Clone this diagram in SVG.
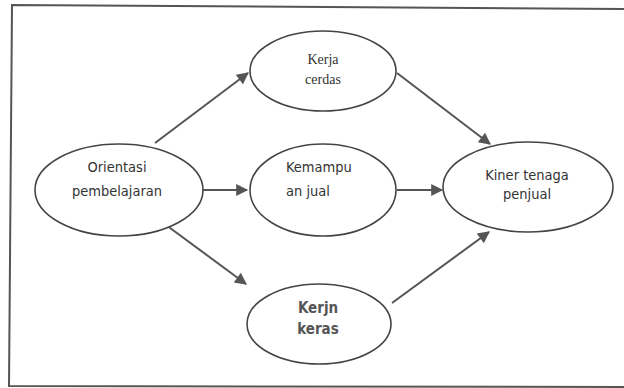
<svg xmlns="http://www.w3.org/2000/svg" width="624" height="388" viewBox="0 0 624 388">
<style>
.node ellipse{fill:#fff;stroke:#444;stroke-width:1.6}
.t{font-family:"Liberation Sans Narrow","DejaVu Sans Condensed","Liberation Sans",sans-serif;font-size:14.5px;fill:#333;text-anchor:middle}
.s{font-family:"Liberation Serif",serif;font-size:14px;fill:#333;text-anchor:middle}
.b{font-family:"Liberation Sans Narrow","DejaVu Sans Condensed","Liberation Sans",sans-serif;font-size:15px;font-weight:bold;fill:#555;text-anchor:middle}
.c line{stroke:#555;stroke-width:2;marker-end:url(#ah)}
</style>
<defs>
<marker id="ah" viewBox="0 0 10 10" refX="9" refY="5" markerWidth="7" markerHeight="6" markerUnits="strokeWidth" orient="auto">
<path d="M0,0 L10,5 L0,10 z" fill="#555"/>
</marker>
</defs>
<rect width="624" height="388" fill="#fff"/>
<path d="M626,9 L12,5 L9,386 L626,387" fill="none" stroke="#555" stroke-width="2"/>
<g class="c">
<line x1="155" y1="143" x2="248" y2="73"/>
<line x1="203" y1="190" x2="247" y2="190"/>
<line x1="162" y1="222" x2="246" y2="284"/>
<line x1="397" y1="73" x2="490" y2="144"/>
<line x1="397" y1="190" x2="442" y2="190"/>
<line x1="392" y1="303" x2="489" y2="232"/>
</g>
<g id="kerja-cerdas" class="node">
<ellipse cx="323" cy="71" rx="73" ry="40"/>
<text class="s" x="323" y="64">Kerja</text>
<text class="s" x="323" y="84">cerdas</text>
</g>
<g id="orientasi" class="node">
<ellipse cx="119" cy="190" rx="84" ry="46"/>
<text class="t" x="117" y="172">Orientasi</text>
<text class="t" x="117" y="196">pembelajaran</text>
</g>
<g id="kemampuan" class="node">
<ellipse cx="323" cy="190" rx="73" ry="46"/>
<text class="t" x="286" y="172" style="text-anchor:start">Kemampu</text>
<text class="t" x="286" y="196" style="text-anchor:start">an jual</text>
</g>
<g id="kiner" class="node">
<ellipse cx="528" cy="187" rx="85" ry="45"/>
<text class="t" x="527" y="180">Kiner tenaga</text>
<text class="t" x="527" y="199">penjual</text>
</g>
<g id="kerja-keras" class="node">
<ellipse cx="319" cy="324" rx="72" ry="40"/>
<text class="b" x="318" y="313">Kerjn</text>
<text class="b" x="318" y="334">keras</text>
</g>
</svg>
